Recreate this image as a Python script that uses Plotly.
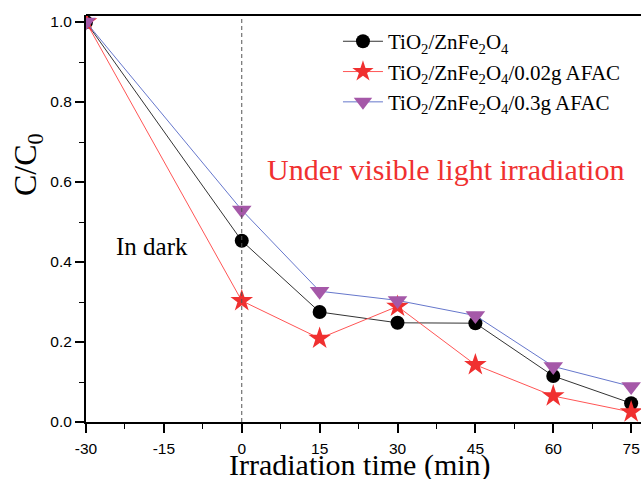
import plotly.graph_objects as go

time_min = [-30, 0, 15, 30, 45, 60, 75]
tio2_znfe2o4 = [1.0, 0.453, 0.275, 0.248, 0.247, 0.115, 0.047]
afac_002 = [1.0, 0.303, 0.209, 0.289, 0.143, 0.065, 0.025]
afac_03 = [1.0, 0.53, 0.327, 0.304, 0.266, 0.139, 0.089]

x_ticks = [-30, -15, 0, 15, 30, 45, 60, 75]
x_ticklabels = ["-30", "-15", "0", "15", "30", "45", "60", "75"]
y_ticks = [0, 0.2, 0.4, 0.6, 0.8, 1.0]
y_ticklabels = ["0.0", "0.2", "0.4", "0.6", "0.8", "1.0"]

names = ["TiO<sub>2</sub>/ZnFe<sub>2</sub>O<sub>4</sub>",
         "TiO<sub>2</sub>/ZnFe<sub>2</sub>O<sub>4</sub>/0.02g AFAC",
         "TiO<sub>2</sub>/ZnFe<sub>2</sub>O<sub>4</sub>/0.3g AFAC"]

fig = go.Figure()
fig.add_trace(go.Scatter(x=time_min, y=tio2_znfe2o4, name=names[0], mode="lines+markers",
                         line=dict(color="#333333", width=1),
                         marker=dict(symbol="circle", size=14, color="black")))
fig.add_trace(go.Scatter(x=time_min, y=afac_002, name=names[1], mode="lines+markers",
                         line=dict(color="#FF5555", width=1),
                         marker=dict(symbol="star", size=17, color="#F03030")))
fig.add_trace(go.Scatter(x=time_min, y=afac_03, name=names[2], mode="lines+markers",
                         line=dict(color="#6677CC", width=1),
                         marker=dict(symbol="triangle-down", size=17, color="#A558A8")))

fig.add_shape(type="line", x0=0, x1=0, y0=0, y1=1, yref="paper",
              line=dict(color="#555555", width=1, dash="4px,3px"))

fig.add_annotation(x=39.2, y=0.632, text="Under visible light irradiation", showarrow=False,
                   xanchor="center", yanchor="middle",
                   font=dict(family="Liberation Serif", size=30, color="#F03030"))
fig.add_annotation(x=-17.3, y=0.438, text="In dark", showarrow=False,
                   xanchor="center", yanchor="middle",
                   font=dict(family="Liberation Serif", size=25, color="black"))

# axis titles (paper coordinates relative to the plot area: 555 x 407 px)
fig.add_annotation(xref="paper", yref="paper", x=(360 - 86) / 555, y=-(465 - 422) / 407,
                   xanchor="center", yanchor="middle",
                   text="Irradiation time (min)", showarrow=False,
                   font=dict(family="Liberation Serif", size=30, color="black"))
fig.add_annotation(xref="paper", yref="paper", x=-(86 - 27) / 555, y=(422 - 165) / 407,
                   xanchor="center", yanchor="middle",
                   text="C/C<sub>0</sub>", showarrow=False, textangle=-90,
                   font=dict(family="Liberation Serif", size=32, color="black"))

fig.update_layout(
    width=641, height=479,
    margin=dict(l=86, r=0, t=15, b=57, autoexpand=False),
    plot_bgcolor="white", paper_bgcolor="white",
    showlegend=True,
    legend=dict(x=0.454, y=0.985, xanchor="left", yanchor="top",
                font=dict(family="Liberation Serif", size=21, color="black"),
                bgcolor="rgba(0,0,0,0)", tracegroupgap=0, itemwidth=40),
    xaxis=dict(range=[-30, 76.9], tickvals=x_ticks, ticktext=x_ticklabels,
               ticks="outside", ticklen=9, tickwidth=1.5, tickcolor="black",
               ticklabelstandoff=2,
               minor=dict(dtick=7.5, tick0=-30, ticks="outside", ticklen=5, tickcolor="black", tickwidth=1.2),
               showline=True, linecolor="black", linewidth=2, mirror=False,
               showgrid=False, zeroline=False, automargin=False,
               tickfont=dict(family="Liberation Sans", size=15.5, color="black")),
    yaxis=dict(range=[0, 1.0175], tickvals=y_ticks, ticktext=y_ticklabels,
               ticks="outside", ticklen=9, tickwidth=1.5, tickcolor="black",
               minor=dict(dtick=0.1, tick0=0, ticks="outside", ticklen=5, tickcolor="black", tickwidth=1.2),
               showline=True, linecolor="black", linewidth=2,
               showgrid=False, zeroline=False, automargin=False,
               tickfont=dict(family="Liberation Sans", size=15.5, color="black")),
)
fig.add_shape(type="line", x0=0, x1=1, xref="paper", y0=1, y1=1, yref="paper",
              line=dict(color="black", width=2))

fig.write_html("out.html", config={"displayModeBar": False},
               post_script="document.body.style.margin='0';document.body.style.overflow='hidden';")
